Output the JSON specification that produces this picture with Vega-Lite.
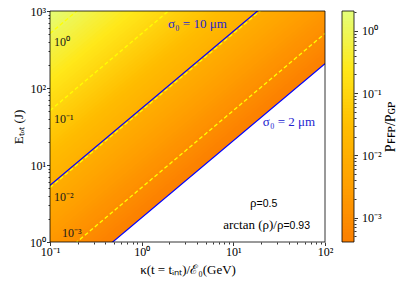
{
"$schema": "https://vega.github.io/schema/vega-lite/v6.json",
"background": "white",
"padding": {"left": 12, "top": 5, "right": 5, "bottom": 5},
"bounds": "flush",
"spacing": 17,
"config": {
 "font": "Liberation Serif",
 "view": {"stroke": null},
 "axis": {"labelFont": "Liberation Serif", "titleFont": "Liberation Serif", "labelFontSize": 12, "titleFontSize": 13, "titleFontWeight": "normal", "labelColor": "black", "titleColor": "black", "tickColor": "black", "tickWidth": 0.8, "domain": false, "grid": false, "labelOverlap": false, "labelFlush": false, "labelBound": false}
},
"datasets": {
 "bands": [
  {"b":0,"k":0.1,"e":0.207,"e2":0.2606,"p":0.00043},{"b":0,"k":100,"e":207,"e2":260.6,"p":0.00043},
  {"b":1,"k":0.1,"e":0.23226,"e2":0.29239,"p":0.0004824},{"b":1,"k":100,"e":232.26,"e2":292.39,"p":0.0004824},
  {"b":2,"k":0.1,"e":0.2606,"e2":0.32807,"p":0.0005413},{"b":2,"k":100,"e":260.6,"e2":328.07,"p":0.0005413},
  {"b":3,"k":0.1,"e":0.29239,"e2":0.3681,"p":0.0006073},{"b":3,"k":100,"e":292.39,"e2":368.1,"p":0.0006073},
  {"b":4,"k":0.1,"e":0.32807,"e2":0.41303,"p":0.0006814},{"b":4,"k":100,"e":328.07,"e2":413.03,"p":0.0006814},
  {"b":5,"k":0.1,"e":0.3681,"e2":0.46341,"p":0.0007646},{"b":5,"k":100,"e":368.1,"e2":463.41,"p":0.0007646},
  {"b":6,"k":0.1,"e":0.41303,"e2":0.51996,"p":0.0008579},{"b":6,"k":100,"e":413.03,"e2":519.96,"p":0.0008579},
  {"b":7,"k":0.1,"e":0.46341,"e2":0.58341,"p":0.0009625},{"b":7,"k":100,"e":463.41,"e2":583.41,"p":0.0009625},
  {"b":8,"k":0.1,"e":0.51996,"e2":0.6546,"p":0.00108},{"b":8,"k":100,"e":519.96,"e2":654.6,"p":0.00108},
  {"b":9,"k":0.1,"e":0.58341,"e2":0.73446,"p":0.0012118},{"b":9,"k":100,"e":583.41,"e2":734.46,"p":0.0012118},
  {"b":10,"k":0.1,"e":0.6546,"e2":0.82409,"p":0.0013597},{"b":10,"k":100,"e":654.6,"e2":824.09,"p":0.0013597},
  {"b":11,"k":0.1,"e":0.73446,"e2":0.92463,"p":0.0015255},{"b":11,"k":100,"e":734.46,"e2":924.63,"p":0.0015255},
  {"b":12,"k":0.1,"e":0.82409,"e2":1.03746,"p":0.0017117},{"b":12,"k":100,"e":824.09,"e2":1037.46,"p":0.0017117},
  {"b":13,"k":0.1,"e":0.92463,"e2":1.16404,"p":0.0019206},{"b":13,"k":100,"e":924.63,"e2":1164.04,"p":0.0019206},
  {"b":14,"k":0.1,"e":1.03746,"e2":1.30609,"p":0.0021549},{"b":14,"k":100,"e":1037.46,"e2":1306.09,"p":0.0021549},
  {"b":15,"k":0.1,"e":1.16404,"e2":1.46546,"p":0.0024178},{"b":15,"k":100,"e":1164.04,"e2":1465.46,"p":0.0024178},
  {"b":16,"k":0.1,"e":1.30609,"e2":1.64426,"p":0.0027129},{"b":16,"k":100,"e":1306.09,"e2":1644.26,"p":0.0027129},
  {"b":17,"k":0.1,"e":1.46546,"e2":1.84489,"p":0.0030439},{"b":17,"k":100,"e":1465.46,"e2":1844.89,"p":0.0030439},
  {"b":18,"k":0.1,"e":1.64426,"e2":2.07,"p":0.0034153},{"b":18,"k":100,"e":1644.26,"e2":2070,"p":0.0034153},
  {"b":19,"k":0.1,"e":1.84489,"e2":2.3226,"p":0.003832},{"b":19,"k":100,"e":1844.89,"e2":2322.6,"p":0.003832},
  {"b":20,"k":0.1,"e":2.07,"e2":2.606,"p":0.0043},{"b":20,"k":100,"e":2070,"e2":2606,"p":0.0043},
  {"b":21,"k":0.1,"e":2.3226,"e2":2.9239,"p":0.004824},{"b":21,"k":100,"e":2322.6,"e2":2923.9,"p":0.004824},
  {"b":22,"k":0.1,"e":2.606,"e2":3.2807,"p":0.005413},{"b":22,"k":100,"e":2606,"e2":3280.7,"p":0.005413},
  {"b":23,"k":0.1,"e":2.9239,"e2":3.681,"p":0.006073},{"b":23,"k":100,"e":2923.9,"e2":3681,"p":0.006073},
  {"b":24,"k":0.1,"e":3.2807,"e2":4.1303,"p":0.006814},{"b":24,"k":100,"e":3280.7,"e2":4130.3,"p":0.006814},
  {"b":25,"k":0.1,"e":3.681,"e2":4.6341,"p":0.007646},{"b":25,"k":100,"e":3681,"e2":4634.1,"p":0.007646},
  {"b":26,"k":0.1,"e":4.1303,"e2":5.1996,"p":0.008579},{"b":26,"k":100,"e":4130.3,"e2":5199.6,"p":0.008579},
  {"b":27,"k":0.1,"e":4.6341,"e2":5.8341,"p":0.009625},{"b":27,"k":100,"e":4634.1,"e2":5834.1,"p":0.009625},
  {"b":28,"k":0.1,"e":5.1996,"e2":6.546,"p":0.0108},{"b":28,"k":100,"e":5199.6,"e2":6546,"p":0.0108},
  {"b":29,"k":0.1,"e":5.8341,"e2":7.3446,"p":0.012118},{"b":29,"k":100,"e":5834.1,"e2":7344.6,"p":0.012118},
  {"b":30,"k":0.1,"e":6.546,"e2":8.2409,"p":0.013597},{"b":30,"k":100,"e":6546,"e2":8240.9,"p":0.013597},
  {"b":31,"k":0.1,"e":7.3446,"e2":9.2463,"p":0.015255},{"b":31,"k":100,"e":7344.6,"e2":9246.3,"p":0.015255},
  {"b":32,"k":0.1,"e":8.2409,"e2":10.3746,"p":0.017117},{"b":32,"k":100,"e":8240.9,"e2":10374.6,"p":0.017117},
  {"b":33,"k":0.1,"e":9.2463,"e2":11.6404,"p":0.019206},{"b":33,"k":100,"e":9246.3,"e2":11640.4,"p":0.019206},
  {"b":34,"k":0.1,"e":10.3746,"e2":13.0609,"p":0.021549},{"b":34,"k":100,"e":10374.6,"e2":13060.9,"p":0.021549},
  {"b":35,"k":0.1,"e":11.6404,"e2":14.6546,"p":0.024178},{"b":35,"k":100,"e":11640.4,"e2":14654.6,"p":0.024178},
  {"b":36,"k":0.1,"e":13.0609,"e2":16.4426,"p":0.027129},{"b":36,"k":100,"e":13060.9,"e2":16442.6,"p":0.027129},
  {"b":37,"k":0.1,"e":14.6546,"e2":18.4489,"p":0.030439},{"b":37,"k":100,"e":14654.6,"e2":18448.9,"p":0.030439},
  {"b":38,"k":0.1,"e":16.4426,"e2":20.7,"p":0.034153},{"b":38,"k":100,"e":16442.6,"e2":20700,"p":0.034153},
  {"b":39,"k":0.1,"e":18.4489,"e2":23.226,"p":0.03832},{"b":39,"k":100,"e":18448.9,"e2":23226,"p":0.03832},
  {"b":40,"k":0.1,"e":20.7,"e2":26.06,"p":0.043},{"b":40,"k":100,"e":20700,"e2":26060,"p":0.043},
  {"b":41,"k":0.1,"e":23.226,"e2":29.239,"p":0.04824},{"b":41,"k":100,"e":23226,"e2":29239,"p":0.04824},
  {"b":42,"k":0.1,"e":26.06,"e2":32.807,"p":0.05413},{"b":42,"k":100,"e":26060,"e2":32807,"p":0.05413},
  {"b":43,"k":0.1,"e":29.239,"e2":36.81,"p":0.06073},{"b":43,"k":100,"e":29239,"e2":36810,"p":0.06073},
  {"b":44,"k":0.1,"e":32.807,"e2":41.303,"p":0.06814},{"b":44,"k":100,"e":32807,"e2":41303,"p":0.06814},
  {"b":45,"k":0.1,"e":36.81,"e2":46.341,"p":0.07646},{"b":45,"k":100,"e":36810,"e2":46341,"p":0.07646},
  {"b":46,"k":0.1,"e":41.303,"e2":51.996,"p":0.08579},{"b":46,"k":100,"e":41303,"e2":51996,"p":0.08579},
  {"b":47,"k":0.1,"e":46.341,"e2":58.341,"p":0.09625},{"b":47,"k":100,"e":46341,"e2":58341,"p":0.09625},
  {"b":48,"k":0.1,"e":51.996,"e2":65.46,"p":0.108},{"b":48,"k":100,"e":51996,"e2":65460,"p":0.108},
  {"b":49,"k":0.1,"e":58.341,"e2":73.446,"p":0.12118},{"b":49,"k":100,"e":58341,"e2":73446,"p":0.12118},
  {"b":50,"k":0.1,"e":65.46,"e2":82.409,"p":0.13597},{"b":50,"k":100,"e":65460,"e2":82409,"p":0.13597},
  {"b":51,"k":0.1,"e":73.446,"e2":92.463,"p":0.15255},{"b":51,"k":100,"e":73446,"e2":92463,"p":0.15255},
  {"b":52,"k":0.1,"e":82.409,"e2":103.746,"p":0.17117},{"b":52,"k":100,"e":82409,"e2":103746,"p":0.17117},
  {"b":53,"k":0.1,"e":92.463,"e2":116.404,"p":0.19206},{"b":53,"k":100,"e":92463,"e2":116404,"p":0.19206},
  {"b":54,"k":0.1,"e":103.746,"e2":130.609,"p":0.21549},{"b":54,"k":100,"e":103746,"e2":130609,"p":0.21549},
  {"b":55,"k":0.1,"e":116.404,"e2":146.546,"p":0.24178},{"b":55,"k":100,"e":116404,"e2":146546,"p":0.24178},
  {"b":56,"k":0.1,"e":130.609,"e2":164.426,"p":0.27129},{"b":56,"k":100,"e":130609,"e2":164426,"p":0.27129},
  {"b":57,"k":0.1,"e":146.546,"e2":184.489,"p":0.30439},{"b":57,"k":100,"e":146546,"e2":184489,"p":0.30439},
  {"b":58,"k":0.1,"e":164.426,"e2":207,"p":0.34153},{"b":58,"k":100,"e":164426,"e2":207000,"p":0.34153},
  {"b":59,"k":0.1,"e":184.489,"e2":232.26,"p":0.3832},{"b":59,"k":100,"e":184489,"e2":232260,"p":0.3832},
  {"b":60,"k":0.1,"e":207,"e2":260.6,"p":0.43},{"b":60,"k":100,"e":207000,"e2":260600,"p":0.43},
  {"b":61,"k":0.1,"e":232.26,"e2":292.39,"p":0.4824},{"b":61,"k":100,"e":232260,"e2":292390,"p":0.4824},
  {"b":62,"k":0.1,"e":260.6,"e2":328.07,"p":0.5413},{"b":62,"k":100,"e":260600,"e2":328070,"p":0.5413},
  {"b":63,"k":0.1,"e":292.39,"e2":368.1,"p":0.6073},{"b":63,"k":100,"e":292390,"e2":368100,"p":0.6073},
  {"b":64,"k":0.1,"e":328.07,"e2":413.03,"p":0.6814},{"b":64,"k":100,"e":328070,"e2":413030,"p":0.6814},
  {"b":65,"k":0.1,"e":368.1,"e2":463.41,"p":0.7646},{"b":65,"k":100,"e":368100,"e2":463410,"p":0.7646},
  {"b":66,"k":0.1,"e":413.03,"e2":519.96,"p":0.8579},{"b":66,"k":100,"e":413030,"e2":519960,"p":0.8579},
  {"b":67,"k":0.1,"e":463.41,"e2":583.41,"p":0.9625},{"b":67,"k":100,"e":463410,"e2":583410,"p":0.9625},
  {"b":68,"k":0.1,"e":519.96,"e2":654.6,"p":1.08},{"b":68,"k":100,"e":519960,"e2":654600,"p":1.08},
  {"b":69,"k":0.1,"e":583.41,"e2":734.46,"p":1.2118},{"b":69,"k":100,"e":583410,"e2":734460,"p":1.2118},
  {"b":70,"k":0.1,"e":654.6,"e2":824.09,"p":1.3597},{"b":70,"k":100,"e":654600,"e2":824090,"p":1.3597},
  {"b":71,"k":0.1,"e":734.46,"e2":924.63,"p":1.5255},{"b":71,"k":100,"e":734460,"e2":924630,"p":1.5255},
  {"b":72,"k":0.1,"e":824.09,"e2":1037.46,"p":1.7117},{"b":72,"k":100,"e":824090,"e2":1037460,"p":1.7117},
  {"b":73,"k":0.1,"e":924.63,"e2":1164.04,"p":1.9206},{"b":73,"k":100,"e":924630,"e2":1164040,"p":1.9206}
 ],
 "bar": [
  {"lo":0.00040588,"hi":0.00051098,"p":0.00043},{"lo":0.00045541,"hi":0.00057331,"p":0.0004824},{"lo":0.00051098,"hi":0.00064327,"p":0.0005413},{"lo":0.00057331,"hi":0.00072176,"p":0.0006073},{"lo":0.00064327,"hi":0.00080986,"p":0.0006814},{"lo":0.00072176,"hi":0.00090865,"p":0.0007646},{"lo":0.00080986,"hi":0.0010195,"p":0.0008579},{"lo":0.00090865,"hi":0.0011439,"p":0.0009625},{"lo":0.0010195,"hi":0.0012835,"p":0.00108},{"lo":0.0011439,"hi":0.0014401,"p":0.0012118},
  {"lo":0.0012835,"hi":0.0016159,"p":0.0013597},{"lo":0.0014401,"hi":0.001813,"p":0.0015255},{"lo":0.0016159,"hi":0.0020342,"p":0.0017117},{"lo":0.001813,"hi":0.0022824,"p":0.0019206},{"lo":0.0020342,"hi":0.002561,"p":0.0021549},{"lo":0.0022824,"hi":0.0028735,"p":0.0024178},{"lo":0.002561,"hi":0.003224,"p":0.0027129},{"lo":0.0028735,"hi":0.0036174,"p":0.0030439},{"lo":0.003224,"hi":0.0040588,"p":0.0034153},{"lo":0.0036174,"hi":0.0045541,"p":0.003832},
  {"lo":0.0040588,"hi":0.0051098,"p":0.0043},{"lo":0.0045541,"hi":0.0057331,"p":0.004824},{"lo":0.0051098,"hi":0.0064327,"p":0.005413},{"lo":0.0057331,"hi":0.0072176,"p":0.006073},{"lo":0.0064327,"hi":0.0080986,"p":0.006814},{"lo":0.0072176,"hi":0.0090865,"p":0.007646},{"lo":0.0080986,"hi":0.010195,"p":0.008579},{"lo":0.0090865,"hi":0.011439,"p":0.009625},{"lo":0.010195,"hi":0.012835,"p":0.0108},{"lo":0.011439,"hi":0.014401,"p":0.012118},
  {"lo":0.012835,"hi":0.016159,"p":0.013597},{"lo":0.014401,"hi":0.01813,"p":0.015255},{"lo":0.016159,"hi":0.020342,"p":0.017117},{"lo":0.01813,"hi":0.022824,"p":0.019206},{"lo":0.020342,"hi":0.02561,"p":0.021549},{"lo":0.022824,"hi":0.028735,"p":0.024178},{"lo":0.02561,"hi":0.03224,"p":0.027129},{"lo":0.028735,"hi":0.036174,"p":0.030439},{"lo":0.03224,"hi":0.040588,"p":0.034153},{"lo":0.036174,"hi":0.045541,"p":0.03832},
  {"lo":0.040588,"hi":0.051098,"p":0.043},{"lo":0.045541,"hi":0.057331,"p":0.04824},{"lo":0.051098,"hi":0.064327,"p":0.05413},{"lo":0.057331,"hi":0.072176,"p":0.06073},{"lo":0.064327,"hi":0.080986,"p":0.06814},{"lo":0.072176,"hi":0.090865,"p":0.07646},{"lo":0.080986,"hi":0.10195,"p":0.08579},{"lo":0.090865,"hi":0.11439,"p":0.09625},{"lo":0.10195,"hi":0.12835,"p":0.108},{"lo":0.11439,"hi":0.14401,"p":0.12118},
  {"lo":0.12835,"hi":0.16159,"p":0.13597},{"lo":0.14401,"hi":0.1813,"p":0.15255},{"lo":0.16159,"hi":0.20342,"p":0.17117},{"lo":0.1813,"hi":0.22824,"p":0.19206},{"lo":0.20342,"hi":0.2561,"p":0.21549},{"lo":0.22824,"hi":0.28735,"p":0.24178},{"lo":0.2561,"hi":0.3224,"p":0.27129},{"lo":0.28735,"hi":0.36174,"p":0.30439},{"lo":0.3224,"hi":0.40588,"p":0.34153},{"lo":0.36174,"hi":0.45541,"p":0.3832},
  {"lo":0.40588,"hi":0.51098,"p":0.43},{"lo":0.45541,"hi":0.57331,"p":0.4824},{"lo":0.51098,"hi":0.64327,"p":0.5413},{"lo":0.57331,"hi":0.72176,"p":0.6073},{"lo":0.64327,"hi":0.80986,"p":0.6814},{"lo":0.72176,"hi":0.90865,"p":0.7646},{"lo":0.80986,"hi":1.0195,"p":0.8579},{"lo":0.90865,"hi":1.1439,"p":0.9625},{"lo":1.0195,"hi":1.2835,"p":1.08},{"lo":1.1439,"hi":1.4401,"p":1.2118},
  {"lo":1.2835,"hi":1.6159,"p":1.3597},{"lo":1.4401,"hi":1.813,"p":1.5255},{"lo":1.6159,"hi":2.0342,"p":1.7117},{"lo":1.813,"hi":2.2824,"p":1.9206}
 ]
},
"hconcat": [
 {
  "width": 275,
  "height": 231,
  "encoding": {
   "x": {"field": "k", "type": "quantitative",
         "scale": {"type": "log", "domain": [0.1, 100], "nice": false},
         "axis": {"title": "κ(t = tᵢₙₜ)/ℰ₀(GeV)", "values": [0.1,0.2,0.3,0.4,0.5,0.6,0.7,0.8,0.9,1,2,3,4,5,6,7,8,9,10,20,30,40,50,60,70,80,90,100],
                  "labelExpr": "datum.value === 0.1 ? '10⁻¹' : datum.value === 1 ? '10⁰' : datum.value === 10 ? '10¹' : datum.value === 100 ? '10²' : ''",
                  "tickSize": {"condition": {"test": "abs(log(datum.value)/LN10 - round(log(datum.value)/LN10)) < 0.001", "value": 3.5}, "value": 2},
                  "labelPadding": 1, "titlePadding": 6}},
   "y": {"field": "e", "type": "quantitative",
         "scale": {"type": "log", "domain": [1, 1000], "nice": false},
         "axis": {"title": "Eₜₒₜ (J)", "values": [1,2,3,4,5,6,7,8,9,10,20,30,40,50,60,70,80,90,100,200,300,400,500,600,700,800,900,1000],
                  "labelExpr": "datum.value === 1 ? '10⁰' : datum.value === 10 ? '10¹' : datum.value === 100 ? '10²' : datum.value === 1000 ? '10³' : ''",
                  "tickSize": {"condition": {"test": "abs(log(datum.value)/LN10 - round(log(datum.value)/LN10)) < 0.001", "value": 3.5}, "value": 2},
                  "labelPadding": 1, "titlePadding": 4}}
  },
  "layer": [
   {
    "data": {"name": "bands"},
    "mark": {"type": "area", "orient": "vertical", "clip": true},
    "encoding": {
     "y2": {"field": "e2"},
     "detail": {"field": "b", "type": "nominal"},
     "color": {"field": "p", "type": "quantitative", "legend": null,
               "scale": {"type": "log", "domain": [0.000406, 0.0034393, 0.029126, 0.24672, 2.09], "range": ["#fc7f00", "#ffa000", "#ffbd00", "#ffe81a", "#e4ff7a"], "interpolate": "rgb"}}
    }
   },
   {
    "data": {"values": [
     {"g": "c0", "k": 0.1, "e": 510}, {"g": "c0", "k": 100, "e": 510000},
     {"g": "c1", "k": 0.1, "e": 51}, {"g": "c1", "k": 100, "e": 51000},
     {"g": "c2", "k": 0.1, "e": 5.1}, {"g": "c2", "k": 100, "e": 5100},
     {"g": "c3", "k": 0.1, "e": 0.51}, {"g": "c3", "k": 100, "e": 510}
    ]},
    "mark": {"type": "line", "clip": true, "color": "#ffff00", "strokeWidth": 1.3, "strokeDash": [4, 2.5]},
    "encoding": {"detail": {"field": "g", "type": "nominal"}}
   },
   {
    "data": {"values": [
     {"g": "s10", "k": 0.1, "e": 5.45}, {"g": "s10", "k": 100, "e": 5450},
     {"g": "s2", "k": 0.1, "e": 0.207}, {"g": "s2", "k": 100, "e": 207}
    ]},
    "mark": {"type": "line", "clip": true, "color": "#0000ff", "strokeWidth": 1.2},
    "encoding": {"detail": {"field": "g", "type": "nominal"}}
   },
   {
    "data": {"values": [
     {"t": "10⁰", "k": 0.1106, "e": 351},
     {"t": "10⁻¹", "k": 0.1106, "e": 35.1},
     {"t": "10⁻²", "k": 0.1106, "e": 3.41},
     {"t": "10⁻³", "k": 0.135, "e": 1.16}
    ]},
    "mark": {"type": "text", "align": "left", "baseline": "alphabetic", "font": "Liberation Serif", "fontSize": 12, "color": "#1a1a1a"},
    "encoding": {"text": {"field": "t"}}
   },
   {
    "data": {"values": [
     {"t": "σ₀ = 10 μm", "k": 1.94, "e": 601},
     {"t": "σ₀ = 2 μm", "k": 21.0, "e": 32.1}
    ]},
    "mark": {"type": "text", "align": "left", "baseline": "alphabetic", "font": "Liberation Serif", "fontSize": 13, "color": "#2424d0"},
    "encoding": {"text": {"field": "t"}}
   },
   {
    "data": {"values": [
     {"t": "ρ", "k": 17.9, "e": 2.85},
     {"t": "arctan (ρ)/ρ", "k": 35.2, "e": 1.475}
    ]},
    "mark": {"type": "text", "align": "right", "baseline": "alphabetic", "font": "Liberation Serif", "fontSize": 13, "color": "black"},
    "encoding": {"text": {"field": "t"}}
   },
   {
    "data": {"values": [
     {"t": "=0.5", "k": 17.9, "e": 2.85},
     {"t": "=0.93", "k": 35.2, "e": 1.475}
    ]},
    "mark": {"type": "text", "align": "left", "baseline": "alphabetic", "font": "Liberation Sans", "fontSize": 10.5, "color": "black"},
    "encoding": {"text": {"field": "t"}}
   },
   {
    "data": {"values": [{"k": 0.1, "k2": 100, "e": 1, "e2": 1000}]},
    "mark": {"type": "rect", "filled": false, "color": "black", "strokeWidth": 0.8},
    "encoding": {"x2": {"field": "k2"}, "y2": {"field": "e2"}}
   }
  ]
 },
 {
  "width": 12,
  "height": 231,
  "encoding": {
   "y": {"field": "lo", "type": "quantitative",
         "scale": {"type": "log", "domain": [0.000406, 2.09], "nice": false},
         "axis": {"orient": "right", "title": "Pꜰꜰᴘ/Pɢᴘ", "titleAngle": 270, "titleFontSize": 14,
                  "values": [0.0005,0.0006,0.0007,0.0008,0.0009,0.001,0.002,0.003,0.004,0.005,0.006,0.007,0.008,0.009,0.01,0.02,0.03,0.04,0.05,0.06,0.07,0.08,0.09,0.1,0.2,0.3,0.4,0.5,0.6,0.7,0.8,0.9,1,2],
                  "labelExpr": "datum.value === 0.001 ? '10⁻³' : datum.value === 0.01 ? '10⁻²' : datum.value === 0.1 ? '10⁻¹' : datum.value === 1 ? '10⁰' : ''",
                  "tickSize": {"condition": {"test": "abs(log(datum.value)/LN10 - round(log(datum.value)/LN10)) < 0.001", "value": 3.5}, "value": 2},
                  "labelPadding": 4, "titlePadding": 16}}
  },
  "layer": [
   {
    "data": {"name": "bar"},
    "mark": {"type": "rect", "clip": true},
    "encoding": {
     "y2": {"field": "hi"},
     "color": {"field": "p", "type": "quantitative", "legend": null,
               "scale": {"type": "log", "domain": [0.000406, 0.0034393, 0.029126, 0.24672, 2.09], "range": ["#fc7f00", "#ffa000", "#ffbd00", "#ffe81a", "#e4ff7a"], "interpolate": "rgb"}}
    }
   },
   {
    "data": {"values": [{"lo": 0.000406, "hi": 2.09}]},
    "mark": {"type": "rect", "filled": false, "color": "black", "strokeWidth": 0.8},
    "encoding": {"y2": {"field": "hi"}}
   }
  ]
 }
]
}
